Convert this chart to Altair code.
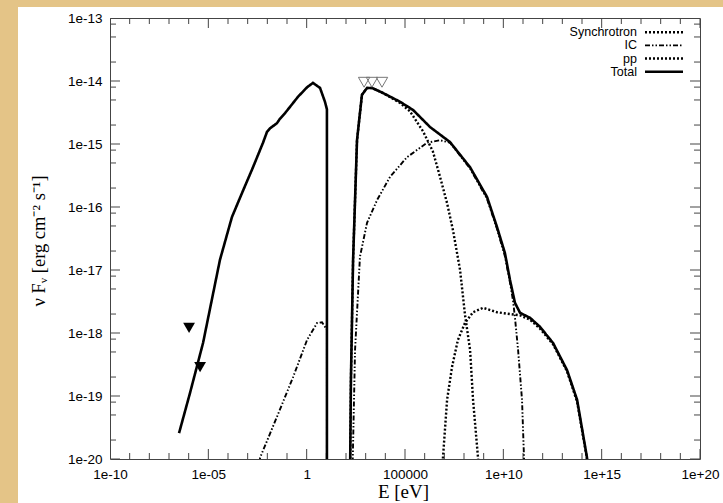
import altair as alt
import pandas as pd

W, H = 590, 441

# ---- data (log10 E [eV], log10 nuFnu [erg cm^-2 s^-1]) ----
total_a_logE = [-6.49, -5.93, -5.27, -4.41, -3.80, -3.29, -2.73, -2.22, -2.02, -1.86, -1.51, -1.36, -1.10, -0.44, 0.02, 0.32, 0.68, 0.93, 1.03, 1.03]
total_a_logF = [-19.59, -18.95, -18.16, -16.84, -16.16, -15.78, -15.37, -14.98, -14.81, -14.75, -14.67, -14.60, -14.51, -14.25, -14.10, -14.03, -14.11, -14.33, -14.45, -20.5]

total_b_logE = [2.20, 2.25, 2.36, 2.56, 2.81, 3.07, 3.32, 3.88, 4.75, 5.41, 6.27, 7.29, 8.31, 9.17, 9.68, 10.08, 10.34, 10.59, 10.85, 11.36, 11.86, 12.53, 13.24, 13.75, 14.25, 14.40]
total_b_logF = [-20.5, -18.75, -16.84, -14.94, -14.22, -14.11, -14.11, -14.19, -14.33, -14.46, -14.73, -14.97, -15.37, -15.84, -16.32, -16.73, -17.16, -17.52, -17.68, -17.76, -17.90, -18.16, -18.59, -19.06, -19.97, -20.5]

synch_logE = [2.20, 2.25, 2.36, 2.56, 2.81, 3.07, 3.32, 3.88, 4.75, 5.25, 5.92, 6.42, 6.78, 7.14, 7.44, 7.80, 8.05, 8.31, 8.46, 8.71, 8.80]
synch_logF = [-20.5, -18.75, -16.84, -14.94, -14.22, -14.11, -14.11, -14.19, -14.35, -14.48, -14.80, -15.12, -15.52, -15.94, -16.37, -17.00, -17.71, -18.27, -19.06, -19.97, -20.5]

ic_a_logE = [-2.45, -2.37, -1.51, -0.69, 0.02, 0.53, 0.78, 0.93, 1.03, 1.03]
ic_a_logF = [-20.5, -19.98, -19.33, -18.70, -18.11, -17.84, -17.83, -17.90, -17.95, -20.5]

ic_b_logE = [2.31, 2.46, 2.71, 3.07, 3.58, 4.24, 5.10, 6.12, 6.78, 7.29, 8.31, 9.17, 9.68, 10.08, 10.34, 10.49, 10.59, 10.75, 10.95, 11.05, 11.09]
ic_b_logF = [-20.5, -18.27, -16.79, -16.25, -15.89, -15.52, -15.21, -14.98, -14.94, -14.98, -15.39, -15.87, -16.35, -16.78, -17.20, -17.48, -17.75, -18.27, -19.06, -19.97, -20.5]

pp_logE = [6.86, 6.93, 7.14, 7.39, 7.69, 8.05, 8.46, 8.97, 9.68, 10.34, 10.85, 11.36, 11.86, 12.53, 13.24, 13.75, 14.25, 14.40]
pp_logF = [-20.5, -19.98, -19.06, -18.54, -18.11, -17.84, -17.67, -17.60, -17.67, -17.70, -17.72, -17.79, -17.93, -18.18, -18.61, -19.09, -19.99, -20.5]

ul_filled_logE = [-5.98, -5.42]
ul_filled_logF = [-17.92, -18.54]
ul_open_logE = [2.92, 3.32, 3.83]
ul_open_logF = [-14.02, -14.02, -14.02]

# ---- axes ----
x_domain = [1e-10, 1e20]
y_domain = [1e-20, 1e-13]
x_major = [1e-10, 1e-5, 1, 1e5, 1e10, 1e15, 1e20]
x_labels = ["1e-10", "1e-05", "1", "100000", "1e+10", "1e+15", "1e+20"]
x_minor_exp = [e for e in range(-10, 21) if e % 5 != 0]
y_major = [1e-20, 1e-19, 1e-18, 1e-17, 1e-16, 1e-15, 1e-14, 1e-13]
y_labels = ["1e-20", "1e-19", "1e-18", "1e-17", "1e-16", "1e-15", "1e-14", "1e-13"]
y_minor_mant = [2, 5, 8]

legend_names = ["Synchrotron", "IC", "pp", "Total"]

PARCH = "#E4C487"
AX = "#444444"
DOT = [2, 2]
DASHDOT = [5, 2, 1.5, 2, 1.5, 2]
styles = {
    "Synchrotron": dict(strokeDash=DOT, strokeWidth=2.4),
    "IC": dict(strokeDash=DASHDOT, strokeWidth=1.9),
    "pp": dict(strokeDash=DOT, strokeWidth=2.4),
    "Total": dict(strokeDash=[1, 0], strokeWidth=2.6),
}

xs = alt.Scale(type="log", domain=x_domain, nice=False)
ys = alt.Scale(type="log", domain=y_domain, nice=False)


def series_df(name, segs):
    rows = []
    for s, (le, lf) in enumerate(segs):
        for i, (a, b) in enumerate(zip(le, lf)):
            rows.append({"series": name, "seg": s, "i": i, "E": 10 ** a, "F": 10 ** b})
    return pd.DataFrame(rows)


def label_expr(vals, labs):
    pairs = " : ".join(f"datum.value > {v * 0.5!r} && datum.value < {v * 2!r} ? '{l}'" for v, l in zip(vals, labs))
    return pairs + " : ''"


one = pd.DataFrame({"a": [0]})

# page border (parchment strips)
strip_left = alt.Chart(one).mark_rect(color=PARCH).encode(
    x=alt.value(-110), x2=alt.value(-92), y=alt.value(-18), y2=alt.value(H + 44))
strip_top = alt.Chart(one).mark_rect(color=PARCH).encode(
    x=alt.value(-110), x2=alt.value(W + 23), y=alt.value(-18), y2=alt.value(-11))

# axis layer: labels and titles only (the inward ticks are drawn by tick layers)
x_axis = alt.Axis(orient="bottom", values=x_major, labelExpr=label_expr(x_major, x_labels),
                  ticks=False, domain=False, grid=False,
                  labelFont="Liberation Sans", labelFontSize=13.5, labelColor="black", labelPadding=8,
                  labelFlush=False, labelOverlap=False,
                  title="E [eV]", titleFont="Liberation Serif", titleFontSize=19, titleFontWeight="normal",
                  titleColor="black", titleX=W / 2 - 2, titleY=32.5, titleAlign="center", titleBaseline="middle")
y_axis = alt.Axis(orient="left", values=y_major, labelExpr=label_expr(y_major, y_labels),
                  ticks=False, domain=False, grid=False,
                  labelFont="Liberation Sans", labelFontSize=13.5, labelColor="black", labelPadding=8,
                  labelFlush=False, labelOverlap=False,
                  title="ν Fᵥ [erg cm⁻² s⁻¹]", titleFont="Liberation Serif", titleFontSize=18.5,
                  titleFontWeight="normal", titleColor="black", titleX=-72, titleY=H / 2 + 2,
                  titleAngle=270, titleAlign="center", titleBaseline="middle")
axis_df = pd.DataFrame({"E": x_domain, "F": y_domain})
axis_layer = alt.Chart(axis_df).mark_point(opacity=0).encode(
    x=alt.X("E:Q", scale=xs, axis=x_axis),
    y=alt.Y("F:Q", scale=ys, axis=y_axis))

# inward ticks on all four sides
xt = pd.DataFrame({"v": x_major + [10.0 ** e for e in x_minor_exp],
                   "s": [20] * len(x_major) + [12] * len(x_minor_exp)})
yminor = [m * v for v in y_major[:-1] for m in y_minor_mant]
yt = pd.DataFrame({"v": y_major + yminor, "s": [20] * len(y_major) + [12] * len(yminor)})

tick_layers = []
for yy in [H, 0]:
    tick_layers.append(alt.Chart(xt).mark_tick(clip=True, thickness=1, color=AX, orient="vertical", opacity=1).encode(
        x=alt.X("v:Q", scale=xs), y=alt.value(yy), size=alt.Size("s:Q", scale=None, legend=None)))
for xx in [0, W]:
    tick_layers.append(alt.Chart(yt).mark_tick(clip=True, thickness=1, color=AX, orient="horizontal", opacity=1).encode(
        y=alt.Y("v:Q", scale=ys), x=alt.value(xx), size=alt.Size("s:Q", scale=None, legend=None)))


def line_layer(name, segs):
    df = series_df(name, segs)
    st = styles[name]
    return alt.Chart(df).mark_line(clip=True, color="black", strokeDash=st["strokeDash"],
                                   strokeWidth=st["strokeWidth"]).encode(
        x=alt.X("E:Q", scale=xs),
        y=alt.Y("F:Q", scale=ys),
        detail="seg:N", order="i:Q")


lines = [
    line_layer("pp", [(pp_logE, pp_logF)]),
    line_layer("IC", [(ic_a_logE, ic_a_logF), (ic_b_logE, ic_b_logF)]),
    line_layer("Synchrotron", [(synch_logE, synch_logF)]),
    line_layer("Total", [(total_a_logE, total_a_logF), (total_b_logE, total_b_logF)]),
]

filled_df = pd.DataFrame({"E": [10 ** v for v in ul_filled_logE], "F": [10 ** v for v in ul_filled_logF]})
open_df = pd.DataFrame({"E": [10 ** v for v in ul_open_logE], "F": [10 ** v for v in ul_open_logF]})
pts_filled = alt.Chart(filled_df).mark_point(shape="triangle-down", filled=True, size=140, color="black", opacity=1).encode(
    x=alt.X("E:Q", scale=xs), y=alt.Y("F:Q", scale=ys))
pts_open = alt.Chart(open_df).mark_point(shape="triangle-down", filled=False, size=130, color="#777777",
                                         strokeWidth=1, opacity=1).encode(
    x=alt.X("E:Q", scale=xs), y=alt.Y("F:Q", scale=ys))

# key (gnuplot style: label right-aligned, sample to the right)
legend_layers = []
row_y = [14.3, 27.4, 40.5, 53.7]
for name, ry in zip(legend_names, row_y):
    st = styles[name]
    legend_layers.append(alt.Chart(one).mark_text(align="right", baseline="middle", font="Liberation Sans",
                                                  fontSize=12.5, color="black", text=name).encode(
        x=alt.value(527), y=alt.value(ry)))
    legend_layers.append(alt.Chart(one).mark_rule(color="black", strokeDash=st["strokeDash"],
                                                  strokeWidth=st["strokeWidth"]).encode(
        x=alt.value(535), x2=alt.value(573), y=alt.value(ry), y2=alt.value(ry)))

chart = alt.layer(
    strip_left, strip_top, axis_layer, *tick_layers, *lines, pts_filled, pts_open, *legend_layers
).properties(
    width=W, height=H,
    autosize=alt.AutoSizeParams(type="none"),
    padding={"left": 110, "top": 18, "right": 23, "bottom": 44},
    background="white",
).configure_view(stroke=AX, strokeWidth=1)

chart.save("out.html", embed_options={"renderer": "svg", "actions": False})
